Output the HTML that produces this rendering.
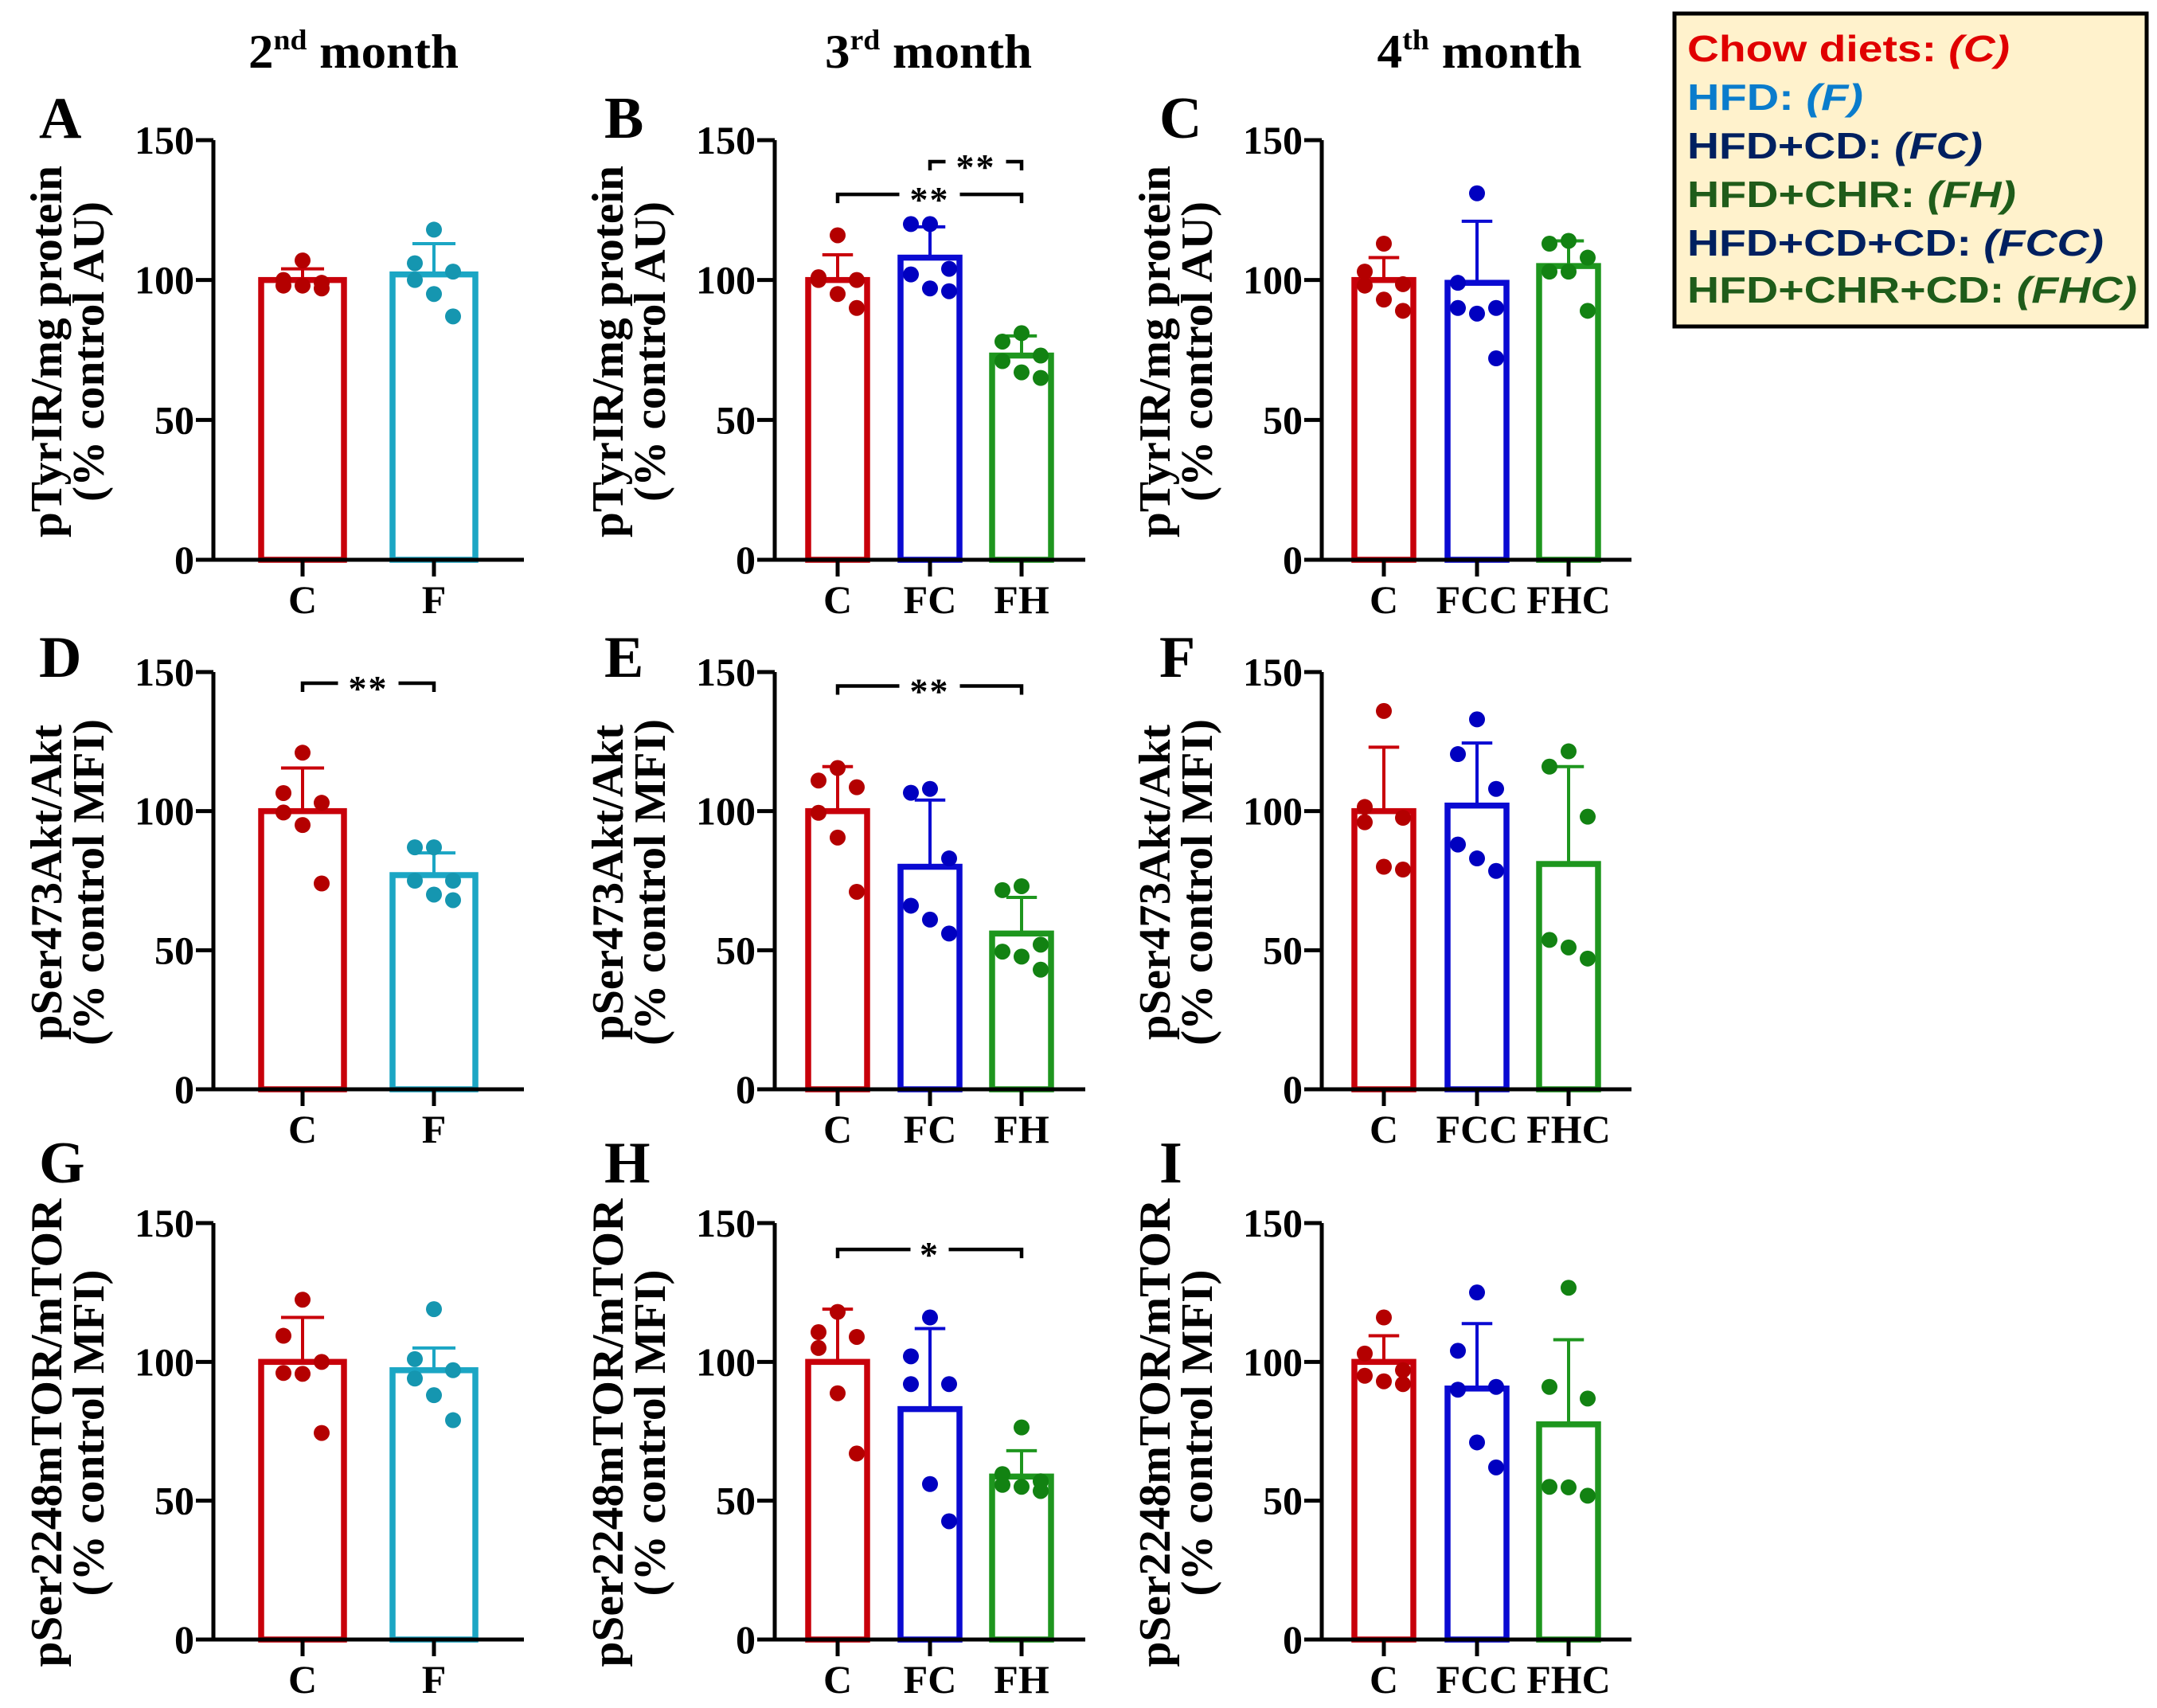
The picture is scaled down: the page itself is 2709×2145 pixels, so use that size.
<!DOCTYPE html>
<html><head><meta charset="utf-8"><style>
html,body{margin:0;padding:0;background:#fff;}
svg{display:block;}
</style></head><body>
<svg id="fig" xmlns="http://www.w3.org/2000/svg" width="2709" height="2145" viewBox="0 0 2709 2145">
<rect x="0" y="0" width="2709" height="2145" fill="#fff"/>
<g font-family="Liberation Serif, serif" font-weight="bold" fill="#000">
<text x="444" y="85" font-size="60" text-anchor="middle" textLength="264" lengthAdjust="spacingAndGlyphs">2<tspan font-size="36" dy="-23">nd</tspan><tspan dy="23"> month</tspan></text>
<text x="1166" y="85" font-size="60" text-anchor="middle" textLength="260" lengthAdjust="spacingAndGlyphs">3<tspan font-size="36" dy="-23">rd</tspan><tspan dy="23"> month</tspan></text>
<text x="1858" y="85" font-size="60" text-anchor="middle" textLength="257" lengthAdjust="spacingAndGlyphs">4<tspan font-size="36" dy="-23">th</tspan><tspan dy="23"> month</tspan></text>
</g>
<g>
<rect x="2103" y="17" width="593" height="393" fill="#fff2cc" stroke="#000" stroke-width="5"/>
<g font-family="Liberation Sans, sans-serif" font-weight="bold" font-size="46">
<text x="2119" y="77" fill="#e00000" textLength="405" lengthAdjust="spacingAndGlyphs">Chow diets: <tspan font-style="italic">(C)</tspan></text>
<text x="2119" y="138" fill="#0a7ccc" textLength="221" lengthAdjust="spacingAndGlyphs">HFD: <tspan font-style="italic">(F)</tspan></text>
<text x="2119" y="199" fill="#002060" textLength="371" lengthAdjust="spacingAndGlyphs">HFD+CD: <tspan font-style="italic">(FC)</tspan></text>
<text x="2119" y="260" fill="#1f5c1a" textLength="413" lengthAdjust="spacingAndGlyphs">HFD+CHR: <tspan font-style="italic">(FH)</tspan></text>
<text x="2119" y="321" fill="#002060" textLength="523" lengthAdjust="spacingAndGlyphs">HFD+CD+CD: <tspan font-style="italic">(FCC)</tspan></text>
<text x="2119" y="380" fill="#1f5c1a" textLength="565" lengthAdjust="spacingAndGlyphs">HFD+CHR+CD: <tspan font-style="italic">(FHC)</tspan></text>
</g></g>
<g id="plots"></g>
</svg>
<script>
// ---- data ----
const ticks = [0, 50, 100, 150];
const catsA = ['C', 'F'];
const meansA = [100, 102];
const errA = [104, 113];
const ptsA = [[107, 100, 99, 98, 98, 97], [118, 106, 103, 100, 95, 87]];
const catsB = ['C', 'FC', 'FH'];
const meansB = [100, 108, 73];
const errB = [109, 119, 80];
const ptsB = [[116, 101, 100, 100, 95, 90], [120, 120, 104, 102, 97, 96], [81, 78, 73, 71, 67, 65]];
const catsC = ['C', 'FCC', 'FHC'];
const meansC = [100, 99, 105];
const errC = [108, 121, 114];
const ptsC = [[113, 103, 98.5, 98, 93, 89], [131, 99, 90, 90, 88, 72], [114, 113, 108, 103, 103, 89]];
const meansD = [100, 77];
const errD = [115.5, 85];
const ptsD = [[121, 106.5, 103, 99.5, 95, 74], [87, 87, 75, 75, 70, 68]];
const meansE = [100, 80, 56];
const errE = [116, 104, 69];
const ptsE = [[115.5, 111, 108.6, 99.4, 90.5, 71], [108, 106.6, 83, 66, 61, 56], [73, 71.6, 52, 49.5, 47.7, 43]];
const meansF = [100, 102, 81];
const errF = [123, 124.5, 116];
const ptsF = [[136, 101.5, 97.6, 96, 80, 79], [133, 120.5, 108, 88, 83, 78.5], [121.5, 116, 98, 53.7, 51, 47]];
const meansG = [100, 97];
const errG = [116, 105];
const ptsG = [[122.4, 109.4, 100, 96, 95.7, 74.4], [119, 101, 97, 94, 88, 79]];
const meansH = [100, 83, 58.7];
const errH = [119, 112, 68];
const ptsH = [[118, 110.7, 109, 105, 88.7, 67], [116, 102, 92, 92, 56, 42.6], [76.4, 59.6, 57, 55.7, 55, 53.5]];
const meansI = [100, 90.4, 77.5];
const errI = [109.4, 113.8, 108];
const ptsI = [[116, 103, 97, 95, 93, 92], [125, 104, 91, 90, 71, 62], [126.7, 91, 86.8, 55, 54.8, 51.8]];
const sigA = [], sigC = [], sigF = [], sigG = [], sigI = [];
const sigB = [[0, 2, 130.6, '**'], [1, 2, 142.3, '**']];
const sigD = [[0, 1, 146, '**']];
const sigE = [[0, 2, 145, '**']];
const sigH = [[0, 2, 140.5, '*']];

// ---- layout ----
const NS = 'http://www.w3.org/2000/svg';
const root = document.getElementById('plots');
const cols = [
  {ax: 268, end: 658, centers: [380, 545], bw: 104},
  {ax: 973, end: 1363, centers: [1052, 1168, 1283], bw: 74},
  {ax: 1660, end: 2049, centers: [1738, 1855, 1970], bw: 74}
];
const rows = [{top: 176, bot: 703}, {top: 844, bot: 1368}, {top: 1536, bot: 2059}];
const colorsBar = {C: '#c8000a', F: '#1ba6c4', FC: '#0a0ad2', FH: '#1e961e', FCC: '#0a0ad2', FHC: '#1e961e'};
const colorsDot = {C: '#b40000', F: '#1596b0', FC: '#0000c0', FH: '#128212', FCC: '#0000c0', FHC: '#128212'};
const jitter = [0, -24, 24, -24, 0, 24];
const line1 = ['pTyrIR/mg protein', 'pSer473Akt/Akt', 'pSer2248mTOR/mTOR'];
const line2 = ['(% control AU)', '(% control MFI)', '(% control MFI)'];
const len1 = [467, 396, 588];
const len2 = [377, 410, 410];
const letterX = [49, 759, 1456];
const letterY = [173, 850, 1485];

function mk(tag, attrs, parent) {
  const e = document.createElementNS(NS, tag);
  for (const k in attrs) e.setAttribute(k, attrs[k]);
  parent.appendChild(e);
  return e;
}

const panels = [
  ['A', 0, 0, catsA, meansA, errA, ptsA, sigA], ['B', 0, 1, catsB, meansB, errB, ptsB, sigB], ['C', 0, 2, catsC, meansC, errC, ptsC, sigC],
  ['D', 1, 0, catsA, meansD, errD, ptsD, sigD], ['E', 1, 1, catsB, meansE, errE, ptsE, sigE], ['F', 1, 2, catsC, meansF, errF, ptsF, sigF],
  ['G', 2, 0, catsA, meansG, errG, ptsG, sigG], ['H', 2, 1, catsB, meansH, errH, ptsH, sigH], ['I', 2, 2, catsC, meansI, errI, ptsI, sigI]
];

panels.forEach(p => {
  const [L, r, c, cats, means, errs, pts, sigs] = p;
  const col = cols[c], row = rows[r];
  const y = v => row.bot - (row.bot - row.top) * v / 150;
  const g = mk('g', {}, root);
  
  
  const t = mk('text', {x: letterX[c], y: letterY[r], 'font-family': 'Liberation Serif, serif', 'font-weight': 'bold', 'font-size': '74'}, g);
  
  
  t.textContent = L;
  const mid = (row.top + row.bot) / 2 + 2;
  [[line1[r], len1[r], col.ax - 208], [line2[r], len2[r], col.ax - 155]].forEach((ln, i) => {
    const tt = mk('text', {x: 0, y: 0, transform: 'translate(' + (ln[2] + 17) + ',' + mid + ') rotate(-90)', 'text-anchor': 'middle', 'font-family': 'Liberation Serif, serif', 'font-weight': 'bold', 'font-size': '56', textLength: ln[1], lengthAdjust: 'spacingAndGlyphs'}, g);
    
    
    tt.textContent = ln[0];
  });
  cats.forEach((cat, i) => {
    const cx = col.centers[i];
    const b = mk('rect', {x: cx - col.bw / 2, y: y(means[i]), width: col.bw, height: y(0) - y(means[i]), fill: '#fff', stroke: colorsBar[cat], 'stroke-width': 7.5}, g);
    
    
    const e = mk('path', {d: 'M' + cx + ' ' + y(means[i]) + 'V' + y(errs[i]) + 'M' + (cx - col.bw * 0.26) + ' ' + y(errs[i]) + 'H' + (cx + col.bw * 0.26), stroke: colorsBar[cat], 'stroke-width': 4, fill: 'none'}, g);
    
    
    pts[i].forEach((v, j) => {
      const d = mk('circle', {cx: cx + jitter[j % jitter.length], cy: y(v), r: 10, fill: colorsDot[cat]}, g);
      
      
    });
  });
  const ax = mk('path', {d: 'M' + col.ax + ' ' + y(150) + 'V' + y(0) + 'H' + col.end, stroke: '#000', 'stroke-width': 5, fill: 'none'}, g);
  
  
  ticks.forEach(v => {
    const tk = mk('line', {x1: col.ax - 22, x2: col.ax, y1: y(v), y2: y(v), stroke: '#000', 'stroke-width': 5}, g);
    
    
    const tl = mk('text', {x: col.ax - 24, y: y(v) + 17, 'text-anchor': 'end', 'font-family': 'Liberation Serif, serif', 'font-weight': 'bold', 'font-size': '50'}, g);
    
    
    tl.textContent = v;
  });
  cats.forEach((cat, i) => {
    const cx = col.centers[i];
    const tk = mk('line', {x1: cx, x2: cx, y1: y(0), y2: y(0) + 21, stroke: '#000', 'stroke-width': 5}, g);
    
    
    const tl = mk('text', {x: cx, y: y(0) + 67, 'text-anchor': 'middle', 'font-family': 'Liberation Serif, serif', 'font-weight': 'bold', 'font-size': '50'}, g);
    
    
    tl.textContent = cat;
  });
  sigs.forEach(s => {
    const x1 = col.centers[s[0]], x2 = col.centers[s[1]], yy = y(s[2]);
    const m = (x1 + x2) / 2, gap = s[3].length * 14 + 10;
    const br = mk('path', {d: 'M' + x1 + ' ' + (yy + 11) + 'V' + yy + 'H' + (m - gap) + 'M' + (m + gap) + ' ' + yy + 'H' + x2 + 'V' + (yy + 11), stroke: '#000', 'stroke-width': 4.5, fill: 'none'}, g);
    
    
    const st = mk('text', {x: m, y: yy + 22, 'text-anchor': 'middle', 'font-family': 'Liberation Serif, serif', 'font-weight': 'bold', 'font-size': '46', 'letter-spacing': '2'}, g);
    
    
    st.textContent = s[3];
  });
});
</script>
</body></html>
